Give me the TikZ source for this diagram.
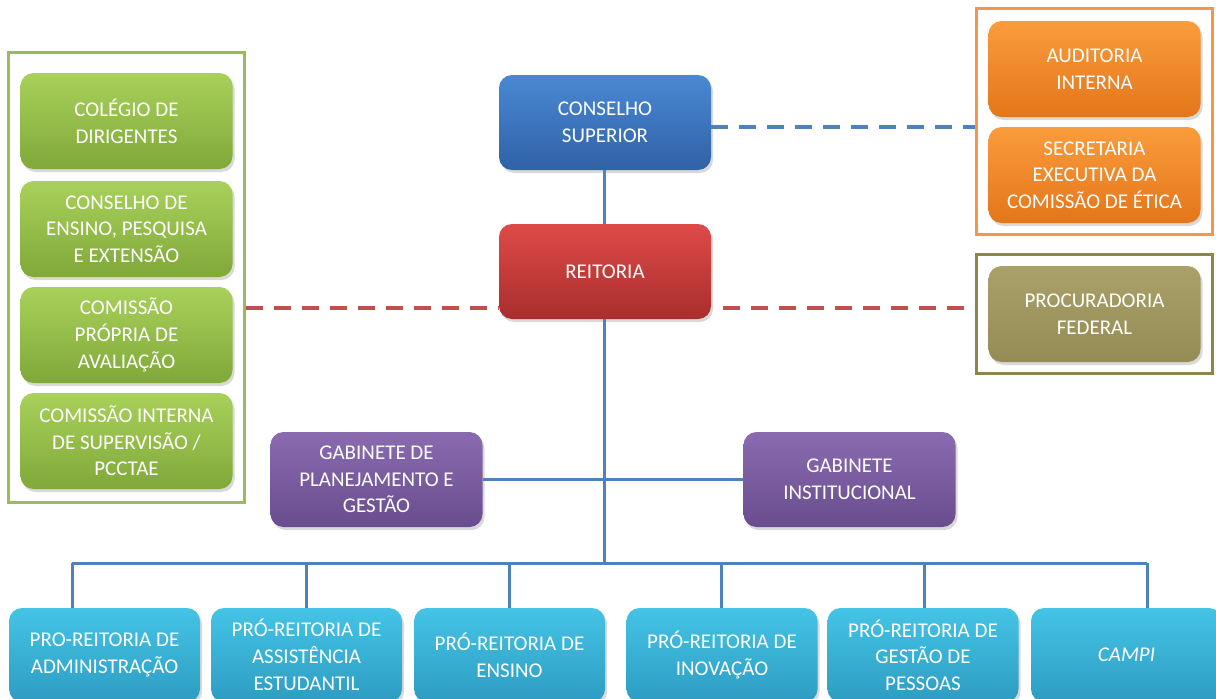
\documentclass[tikz,border=0pt]{standalone}
\usepackage{fontspec}
\setmainfont{Carlito}
\usetikzlibrary{shadows}
\definecolor{gtop}{HTML}{A8D15A}
\definecolor{gbot}{HTML}{80A83A}
\definecolor{gframe}{HTML}{9BBB59}
\definecolor{otop}{HTML}{FA9C3C}
\definecolor{obot}{HTML}{E4761A}
\definecolor{oframe}{HTML}{F79646}
\definecolor{ltop}{HTML}{A9A06A}
\definecolor{lbot}{HTML}{958C55}
\definecolor{lframe}{HTML}{8C8550}
\definecolor{btop}{HTML}{4A88D4}
\definecolor{bbot}{HTML}{2F62A6}
\definecolor{rtop}{HTML}{DE4A48}
\definecolor{rbot}{HTML}{A82E2C}
\definecolor{ptop}{HTML}{8A6BB0}
\definecolor{pbot}{HTML}{694D8E}
\definecolor{ctop}{HTML}{44C4E6}
\definecolor{cbot}{HTML}{2D9CC2}
\definecolor{lineblue}{HTML}{4F81BD}
\definecolor{linered}{HTML}{C0504D}
\tikzset{
  unit/.style={rounded corners=13pt, text=white, align=center, inner sep=0pt,
    drop shadow={opacity=0.3, shadow xshift=2pt, shadow yshift=-3pt}},
  central/.style={unit, minimum width=212pt, minimum height=95pt},
  side/.style={unit, minimum width=212pt, minimum height=96pt},
  low/.style={unit, minimum width=191pt, minimum height=94pt, top color=ctop, bottom color=cbot},
  greenbox/.style={side, top color=gtop, bottom color=gbot},
  orangebox/.style={side, top color=otop, bottom color=obot},
  olivebox/.style={side, top color=ltop, bottom color=lbot},
  framebox/.style={line width=3pt, inner sep=0pt},
  conn/.style={draw=lineblue, line width=3pt},
  bdash/.style={draw=lineblue, line width=4pt, dash pattern=on 17pt off 11pt},
  rdash/.style={draw=linered, line width=4pt, dash pattern=on 17pt off 11pt}
}
\begin{document}
\begin{tikzpicture}[x=1pt,y=-1pt, font=\fontsize{21}{26.7}\selectfont]
\useasboundingbox (0,0) rectangle (1216,699);
\clip (0,0) rectangle (1216,699);
% frames
\node[framebox, draw=gframe, minimum width=236pt, minimum height=450pt] (gfr) at (126,277) {};
\node[framebox, draw=oframe, minimum width=236pt, minimum height=226pt] (ofr) at (1094,121) {};
\node[framebox, draw=lframe, minimum width=236pt, minimum height=119pt] (lfr) at (1094,313.5) {};
% bus coordinates
\coordinate (bus) at (604,563);
\coordinate (d1) at (72,563);
\coordinate (d2) at (306,563);
\coordinate (d3) at (509,563);
\coordinate (d4) at (721,563);
\coordinate (d5) at (924,563);
\coordinate (d6) at (1147,563);
% green boxes
\node[greenbox] (g1) at (126.5,121) {COLÉGIO DE\\DIRIGENTES};
\node[greenbox] (g2) at (126.5,229) {CONSELHO DE\\ENSINO, PESQUISA\\E EXTENSÃO};
\node[greenbox] (g3) at (126.5,335) {COMISSÃO\\PRÓPRIA DE\\AVALIAÇÃO};
\node[greenbox] (g4) at (126.5,441) {COMISSÃO INTERNA\\DE SUPERVISÃO /\\PCCTAE};
% orange and olive
\node[orangebox] (o1) at (1094.5,69) {AUDITORIA\\INTERNA};
\node[orangebox] (o2) at (1094.5,175) {SECRETARIA\\EXECUTIVA DA\\COMISSÃO DE ÉTICA};
\node[olivebox] (pf) at (1094.5,314) {PROCURADORIA\\FEDERAL};
% central
\node[central, top color=btop, bottom color=bbot] (cons) at (605,122.5) {CONSELHO\\SUPERIOR};
\node[central, top color=rtop, bottom color=rbot] (reit) at (605,271.5) {REITORIA};
\node[central, top color=ptop, bottom color=pbot] (gpg) at (376.5,479.5) {GABINETE DE\\PLANEJAMENTO E\\GESTÃO};
\node[central, top color=ptop, bottom color=pbot] (gi) at (849.5,479.5) {GABINETE\\INSTITUCIONAL};
% bottom row
\node[low] (p1) at (104.5,655) {PRO-REITORIA DE\\ADMINISTRAÇÃO};
\node[low] (p2) at (306.5,655) {PRÓ-REITORIA DE\\ASSISTÊNCIA\\ESTUDANTIL};
\node[low] (p3) at (509.5,655) {PRÓ-REITORIA DE\\ENSINO};
\node[low] (p4) at (722,655) {PRÓ-REITORIA DE\\INOVAÇÃO};
\node[low] (p5) at (923,655) {PRÓ-REITORIA DE\\GESTÃO DE\\PESSOAS};
\node[low] (p6) at (1126.5,655) {\itshape CAMPI};
% lines
\draw[conn] (cons.south -| bus) -- (reit.north -| bus);
\draw[conn] (reit.south -| bus) -- (bus);
\draw[conn] (gpg.east) -- (gi.west);
\draw[conn] (d1) -- (d6);
\draw[conn] (d1) -- (d1 |- p1.north);
\draw[conn] (d2) -- (d2 |- p2.north);
\draw[conn] (d3) -- (d3 |- p3.north);
\draw[conn] (d4) -- (d4 |- p4.north);
\draw[conn] (d5) -- (d5 |- p5.north);
\draw[conn] (d6) -- (d6 |- p6.north);
\draw[bdash] (cons.east |- 0,127) -- (ofr.west |- 0,127);
\draw[rdash] (gfr.east |- 0,308) -- (reit.west |- 0,308);
\draw[rdash] ([xshift=12pt]reit.east |- 0,308) -- (lfr.west |- 0,308);
\end{tikzpicture}
\end{document}
